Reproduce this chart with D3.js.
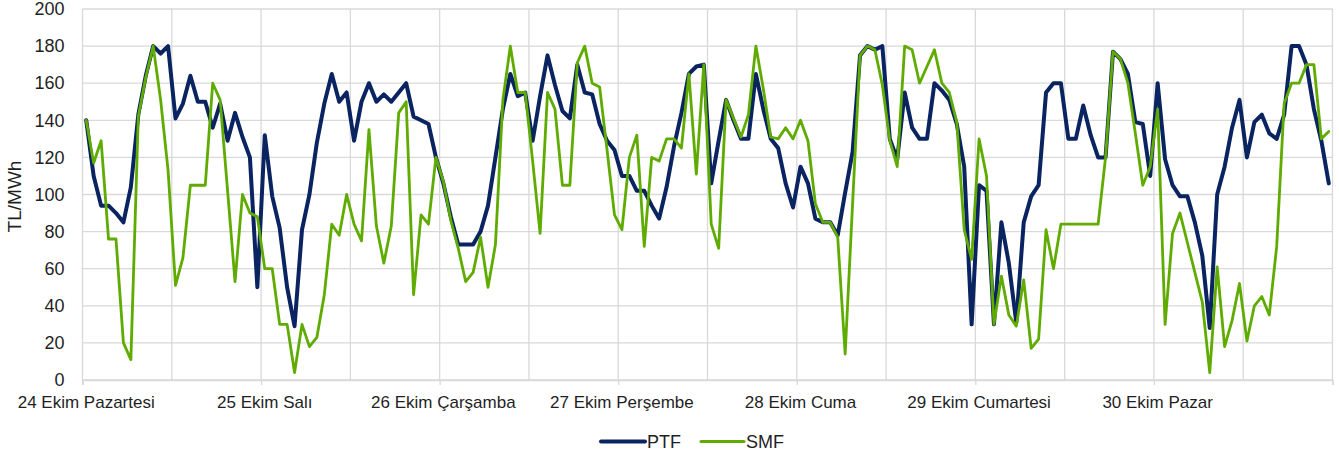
<!DOCTYPE html>
<html>
<head>
<meta charset="utf-8">
<script src="https://cdn.jsdelivr.net/npm/d3@7"></script>
<style>
  html, body { margin: 0; padding: 0; background: #fff; }
  svg { display: block; }
  text { font-family: "Liberation Sans", Arial, sans-serif; fill: #1f1f1f; }
</style>
</head>
<body>
<svg id="chart" width="1339" height="456"></svg>
<script>
const dayLabels = ["24 Ekim Pazartesi", "25 Ekim Salı", "26 Ekim Çarşamba", "27 Ekim Perşembe",
  "28 Ekim Cuma", "29 Ekim Cumartesi", "30 Ekim Pazar"];

const ptf = [
  140, 110, 94, 94, 90, 85, 104, 143, 164, 180, 176, 180, 141, 149, 164, 150, 150, 136, 149, 129, 144, 131, 120, 50,
  132, 99, 82, 50, 29, 81, 100, 128, 149, 165, 150, 155, 129, 150, 160, 150, 154, 150, 155, 160, 142, 140, 138, 120,
  106, 88, 73, 73, 73, 80, 94, 120, 146, 165, 153, 155, 129, 153, 175, 159, 145, 141, 170, 155, 154, 138, 129, 124,
  110, 110, 102, 102, 94, 87, 104, 126, 144, 165, 169, 170, 106, 129, 151, 140, 130, 130, 165, 146, 130, 125, 106, 93,
  115, 106, 87, 85, 85, 78, 101, 123, 175, 180, 178, 180, 130, 119, 155, 136, 130, 130, 160, 156, 151, 138, 115, 30,
  105, 102, 30, 85, 63, 31, 85, 99, 105, 155, 160, 160, 130, 130, 148, 132, 120, 120, 177, 173, 165, 139, 138, 110,
  160, 119, 105, 99, 99, 85, 67, 28, 100, 115, 136, 151, 120, 139, 143, 133, 130, 143, 180, 180, 170, 146, 129, 106
];

const smf = [
  140, 117, 129, 76, 76, 20, 11, 142, 163, 180, 151, 113, 51, 66, 105, 105, 105, 160, 151, 102, 53, 100, 90, 88,
  60, 60, 30, 30, 4, 30, 18, 23, 46, 84, 78, 100, 84, 75, 135, 83, 63, 83, 144, 150, 46, 89, 84, 120,
  107, 86, 71, 53, 58, 77, 50, 73, 151, 180, 155, 155, 118, 79, 155, 146, 105, 105, 171, 180, 160, 158, 124, 89,
  81, 120, 132, 72, 120, 118, 130, 130, 125, 165, 111, 170, 84, 71, 151, 141, 131, 143, 180, 157, 131, 130, 136, 130,
  140, 129, 95, 85, 85, 77, 14, 95, 175, 180, 178, 159, 129, 115, 180, 178, 160, 169, 178, 160, 155, 139, 81, 65,
  130, 110, 30, 56, 35, 29, 54, 17, 22, 81, 60, 84, 84, 84, 84, 84, 84, 120, 177, 173, 160, 133, 105, 115,
  146, 30, 79, 90, 74, 58, 42, 4, 61, 18, 32, 52, 21, 40, 45, 35, 72, 149, 160, 160, 170, 170, 130, 134
];

const yTicks = [0, 20, 40, 60, 80, 100, 120, 140, 160, 180, 200];
const seriesNames = ["PTF", "SMF"];
const seriesColors = ["#0a2361", "#5fab00"];

(function () {
  const svg = d3.select("#chart");
  const mLeft = 82.5, mRight = 1332.5, mTop = 9, mBottom = 380;
  const n = ptf.length;

  const x = d3.scaleLinear().domain([0, n]).range([mLeft, mRight]);
  const y = d3.scaleLinear().domain([0, 200]).range([mBottom, mTop]);
  const grid = "#d9d9d9";

  // horizontal gridlines
  svg.append("g").selectAll("line").data(yTicks).join("line")
    .attr("x1", mLeft).attr("x2", mRight)
    .attr("y1", d => y(d)).attr("y2", d => y(d))
    .attr("stroke", grid).attr("stroke-width", 1.3);

  // vertical gridlines every 12 hours
  svg.append("g").selectAll("line").data(d3.range(0, n + 1, 12)).join("line")
    .attr("x1", d => x(d)).attr("x2", d => x(d))
    .attr("y1", mTop).attr("y2", mBottom)
    .attr("stroke", grid).attr("stroke-width", 1.3);

  // x axis ticks at day boundaries
  const xAxis = d3.axisBottom(x).tickValues(d3.range(0, n + 1, 24)).tickSize(5).tickFormat("");
  const gx = svg.append("g").attr("transform", `translate(0,${mBottom})`).call(xAxis);
  gx.select(".domain").attr("stroke", grid).attr("stroke-width", 1.3);
  gx.selectAll(".tick line").attr("stroke", grid).attr("stroke-width", 1.3);

  // day labels centred at the first hour of each day
  svg.append("g").selectAll("text").data(dayLabels).join("text")
    .attr("x", (d, i) => x(i * 24 + 0.5))
    .attr("y", 407.5)
    .attr("text-anchor", "middle")
    .attr("font-size", "17px")
    .text(d => d);

  // y axis
  const yAxis = d3.axisLeft(y).tickValues(yTicks).tickSize(0).tickPadding(18);
  const gy = svg.append("g").attr("transform", `translate(${mLeft},0)`).call(yAxis);
  gy.select(".domain").remove();
  gy.selectAll("text").attr("font-size", "18px")
    .style("font-family", '"Liberation Sans", Arial, sans-serif').attr("fill", "#1f1f1f");

  // y title
  svg.append("text")
    .attr("transform", `translate(21,${(mTop + mBottom) / 2 + 2}) rotate(-90)`)
    .attr("text-anchor", "middle")
    .attr("font-size", "19px")
    .text("TL/MWh");

  // lines
  const line = d3.line().x((d, i) => x(i + 0.5)).y(d => y(d));
  svg.append("path").datum(ptf)
    .attr("fill", "none").attr("stroke", seriesColors[0]).attr("stroke-width", 4)
    .attr("stroke-linejoin", "round").attr("stroke-linecap", "round").attr("d", line);
  svg.append("path").datum(smf)
    .attr("fill", "none").attr("stroke", seriesColors[1]).attr("stroke-width", 2.8)
    .attr("stroke-linejoin", "round").attr("stroke-linecap", "round").attr("d", line);

  // legend
  const legend = [
    { name: seriesNames[0], color: seriesColors[0], w: 4, x0: 601, x1: 645, tx: 647 },
    { name: seriesNames[1], color: seriesColors[1], w: 3, x0: 701, x1: 744, tx: 746 }
  ];
  const lg = svg.append("g");
  legend.forEach(l => {
    lg.append("line").attr("x1", l.x0).attr("x2", l.x1).attr("y1", 441.5).attr("y2", 441.5)
      .attr("stroke", l.color).attr("stroke-width", l.w).attr("stroke-linecap", "round");
    lg.append("text").attr("x", l.tx).attr("y", 448).attr("font-size", "18px").text(l.name);
  });
})();
</script>
</body>
</html>
